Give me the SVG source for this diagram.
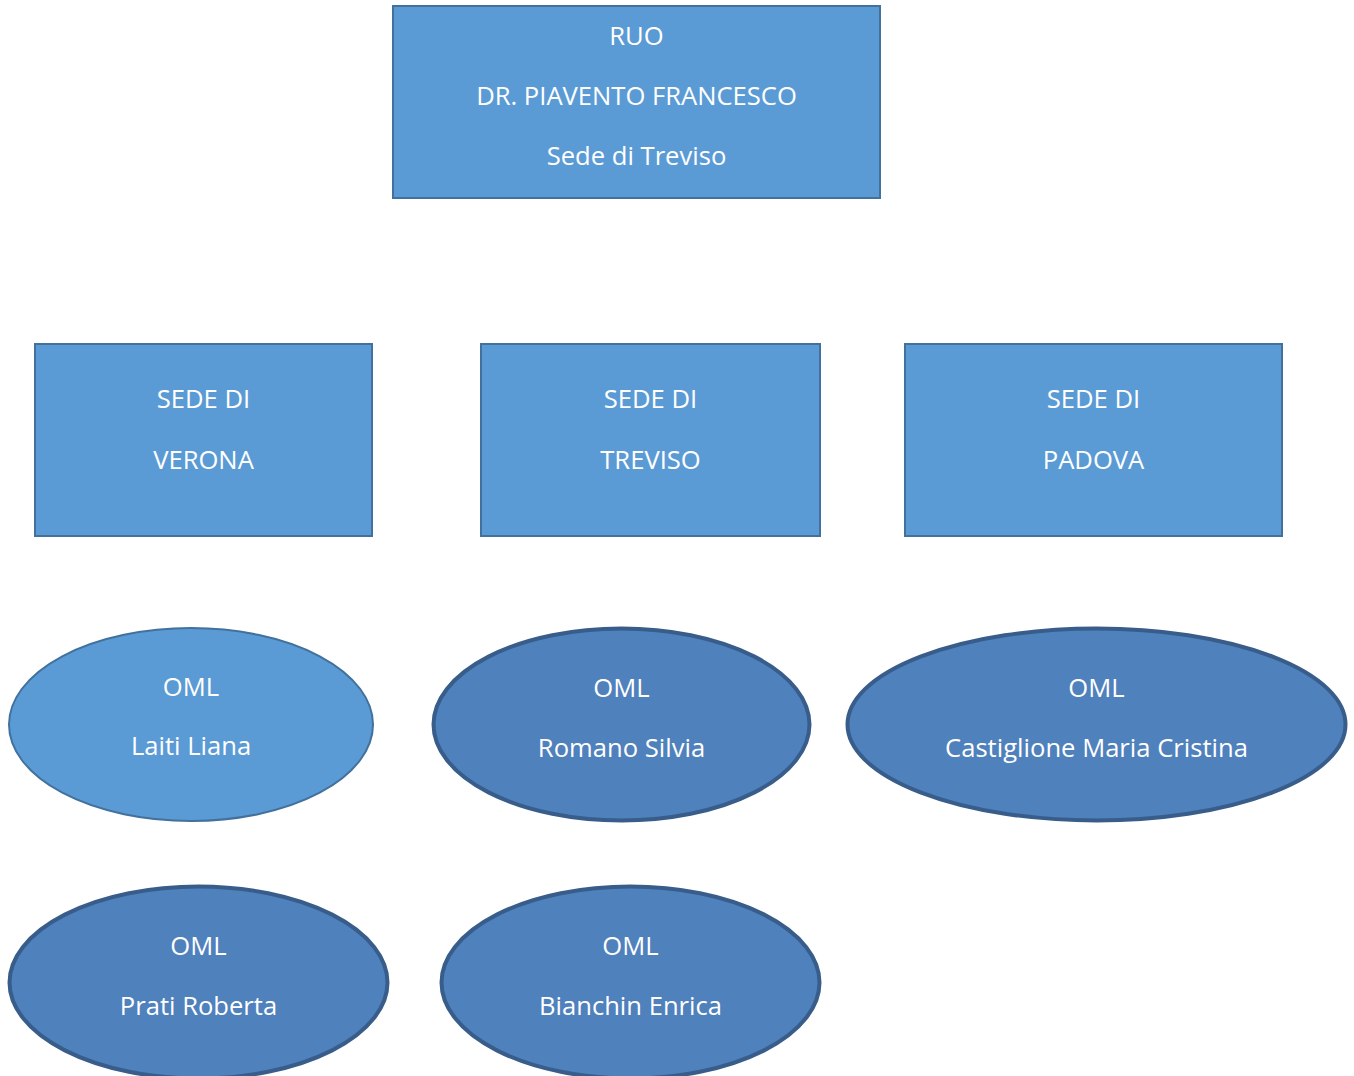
<svg xmlns="http://www.w3.org/2000/svg" width="1354" height="1076" viewBox="0 0 1354 1076">
<style>
.box{fill:#5B9BD5;stroke:#41719C;stroke-width:2}
.ov1{fill:#5B9BD5;stroke:#41719C;stroke-width:2}
.ov2{fill:#4F81BD;stroke:#385D8A;stroke-width:4}
text{font-family:"Open Sans","Noto Sans","Liberation Sans",sans-serif;font-size:25.6px;fill:#FFFFFF;text-anchor:middle;dominant-baseline:central}
</style>
<rect width="1354" height="1076" fill="#FFFFFF"/>
<g id="connectors"></g>
<g id="ruo">
<rect class="box" x="393" y="6" width="487" height="192"/>
<text x="636.5" y="35">RUO</text>
<text x="636.5" y="95">DR. PIAVENTO FRANCESCO</text>
<text x="636.5" y="155">Sede di Treviso</text>
</g>
<g id="sede-verona">
<rect class="box" x="35" y="344" width="337" height="192"/>
<text x="203.5" y="398">SEDE DI</text>
<text x="203.5" y="459">VERONA</text>
</g>
<g id="sede-treviso">
<rect class="box" x="481" y="344" width="339" height="192"/>
<text x="650.5" y="398">SEDE DI</text>
<text x="650.5" y="459">TREVISO</text>
</g>
<g id="sede-padova">
<rect class="box" x="905" y="344" width="377" height="192"/>
<text x="1093.5" y="398">SEDE DI</text>
<text x="1093.5" y="459">PADOVA</text>
</g>
<g id="oml-laiti">
<ellipse class="ov1" cx="191" cy="724.5" rx="182" ry="96.5"/>
<text x="191" y="686">OML</text>
<text x="191" y="745">Laiti Liana</text>
</g>
<g id="oml-romano">
<ellipse class="ov2" cx="621.5" cy="724.5" rx="188" ry="96"/>
<text x="621.5" y="687">OML</text>
<text x="621.5" y="747">Romano Silvia</text>
</g>
<g id="oml-castiglione">
<ellipse class="ov2" cx="1096.5" cy="724.5" rx="249" ry="96"/>
<text x="1096.5" y="687">OML</text>
<text x="1096.5" y="747">Castiglione Maria Cristina</text>
</g>
<g id="oml-prati">
<ellipse class="ov2" cx="198.5" cy="982.5" rx="189" ry="96"/>
<text x="198.5" y="945">OML</text>
<text x="198.5" y="1005">Prati Roberta</text>
</g>
<g id="oml-bianchin">
<ellipse class="ov2" cx="630.5" cy="982.5" rx="189" ry="96"/>
<text x="630.5" y="945">OML</text>
<text x="630.5" y="1005">Bianchin Enrica</text>
</g>
</svg>
